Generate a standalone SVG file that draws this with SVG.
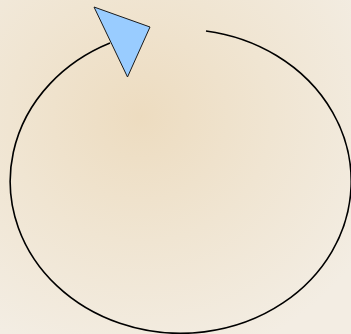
<svg xmlns="http://www.w3.org/2000/svg" width="351" height="334" viewBox="0 0 351 334">
  <defs>
    <radialGradient id="paper" cx="0.4" cy="0.35" r="0.75">
      <stop offset="0" stop-color="#eddcc0"/>
      <stop offset="0.5" stop-color="#f0e5d2"/>
      <stop offset="1" stop-color="#f3ede3"/>
    </radialGradient>
    <style>
      .conn { fill: none; stroke: #000; stroke-width: 1.6; }
      .head { fill: #99ccff; stroke: #1a1a1a; stroke-width: 1; stroke-linejoin: miter; }
    </style>
  </defs>
  <rect width="351" height="334" fill="url(#paper)"/>
  <g id="connectors">
    <path class="conn" d="M 206 31 A 170.5 152 0 1 1 110 43"/>
  </g>
  <g id="arrowhead">
    <polygon class="head" points="94,7 150,27 127.5,77"/>
  </g>
</svg>
